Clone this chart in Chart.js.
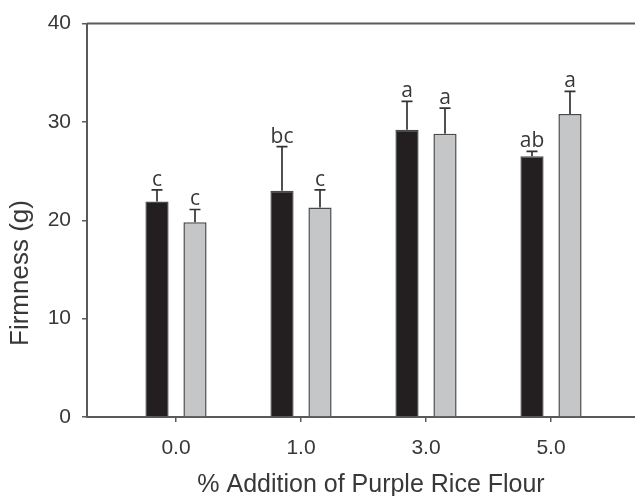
<!DOCTYPE html>
<html>
<head>
<meta charset="utf-8">
<script src="https://cdn.jsdelivr.net/npm/chart.js@4.4.0/dist/chart.umd.min.js"></script>
<style>
  html, body { margin: 0; padding: 0; background: #fff; }
  #wrap { width: 635px; height: 496px; }
</style>
</head>
<body>
<div id="wrap"><canvas id="firmness-chart" width="635" height="496"></canvas></div>
<script>
// Firmness vs % purple rice flour, two sample groups

const categories = ['0.0', '1.0', '3.0', '5.0'];
const yTicks = [0, 10, 20, 30, 40];

const blackValues = [21.9, 23.0, 29.2, 26.5];
const blackErrors = [1.2, 4.5, 2.9, 0.5];
const blackLetters = ['c', 'bc', 'a', 'ab'];

const grayValues = [19.8, 21.3, 28.8, 30.8];
const grayErrors = [1.3, 1.8, 2.6, 2.3];
const grayLetters = ['c', 'c', 'a', 'a'];

const xTitle = '% Addition of Purple Rice Flour';
const yTitle = 'Firmness (g)';

const colors = {
    black: '#231f20',
    gray: '#c5c6c8',
    edge: '#4a4a4a',
    axis: '#5a5a5a',
    text: '#383838'
};

const font = "'Liberation Sans', Arial, sans-serif";

// error bars, significance letters, top frame line and axis titles
const extras = {
    id: 'extras',
    afterDatasetsDraw(chart) {
        const { ctx, scales: { y } } = chart;
        const sets = [[blackErrors, blackLetters], [grayErrors, grayLetters]];
        ctx.save();
        sets.forEach(([errs, letters], di) => {
            const meta = chart.getDatasetMeta(di);
            meta.data.forEach((bar, i) => {
                const v = chart.data.datasets[di].data[i].y;
                const top = y.getPixelForValue(v + errs[i]);
                ctx.strokeStyle = '#333';
                ctx.lineWidth = 1.7;
                ctx.beginPath();
                ctx.moveTo(bar.x, bar.y);
                ctx.lineTo(bar.x, top);
                ctx.moveTo(bar.x - 5.5, top);
                ctx.lineTo(bar.x + 5.5, top);
                ctx.stroke();

                ctx.fillStyle = colors.text;
                ctx.font = "21px 'Open Sans', sans-serif";
                ctx.textAlign = 'center';
                ctx.textBaseline = 'alphabetic';
                ctx.fillText(letters[i], bar.x, top - 4);
            });
        });
        ctx.restore();
    },
    afterDraw(chart) {
        const { ctx, chartArea } = chart;
        ctx.save();
        ctx.strokeStyle = colors.axis;
        ctx.lineWidth = 2;
        ctx.beginPath();
        ctx.moveTo(chartArea.left, chartArea.top);
        ctx.lineTo(chartArea.right, chartArea.top);
        ctx.stroke();

        ctx.fillStyle = colors.text;
        ctx.font = '25px ' + font;
        ctx.textAlign = 'center';
        ctx.textBaseline = 'middle';
        ctx.fillText(xTitle, 371, 485);

        ctx.font = '26px ' + font;
        ctx.translate(21, 273);
        ctx.rotate(-Math.PI / 2);
        ctx.fillText(yTitle, 0, 0);
        ctx.restore();
    }
};

new Chart(document.getElementById('firmness-chart'), {
    type: 'bar',
    data: {
        datasets: [
            {
                label: 'black',
                data: blackValues.map((v, i) => ({ x: i, y: v })),
                backgroundColor: colors.black,
                borderColor: colors.edge,
                borderWidth: 1.5
            },
            {
                label: 'gray',
                data: grayValues.map((v, i) => ({ x: i, y: v })),
                backgroundColor: colors.gray,
                borderColor: colors.edge,
                borderWidth: 1.5
            }
        ]
    },
    options: {
        responsive: false,
        animation: false,
        categoryPercentage: 0.608,
        barPercentage: 0.61,
        layout: { padding: { top: 20, right: 0, left: 0, bottom: 0 } },
        plugins: {
            legend: { display: false },
            tooltip: { enabled: false }
        },
        scales: {
            x: {
                type: 'linear',
                offset: false,
                min: -0.712,
                max: 3.672,
                afterBuildTicks: (scale) => {
                    scale.ticks = categories.map((c, i) => ({ value: i }));
                },
                afterFit: (scale) => { scale.height = 79; },
                grid: {
                    offset: false,
                    drawOnChartArea: false,
                    drawTicks: true,
                    tickLength: 5,
                    color: colors.axis,
                    lineWidth: 1.5
                },
                border: { color: colors.axis, width: 2 },
                ticks: {
                    callback: (v) => categories[v],
                    color: colors.text,
                    font: { family: font, size: 21 },
                    padding: 14,
                    maxRotation: 0
                }
            },
            y: {
                min: 0,
                max: 40,
                afterBuildTicks: (scale) => {
                    scale.ticks = yTicks.map((v) => ({ value: v }));
                },
                afterFit: (scale) => { scale.width = 87; },
                grid: {
                    drawOnChartArea: false,
                    drawTicks: true,
                    tickLength: 5,
                    color: colors.axis,
                    lineWidth: 1.5
                },
                border: { color: colors.axis, width: 2 },
                ticks: {
                    color: colors.text,
                    font: { family: font, size: 21 },
                    padding: 11
                }
            }
        }
    },
    plugins: [extras]
});
</script>
</body>
</html>
